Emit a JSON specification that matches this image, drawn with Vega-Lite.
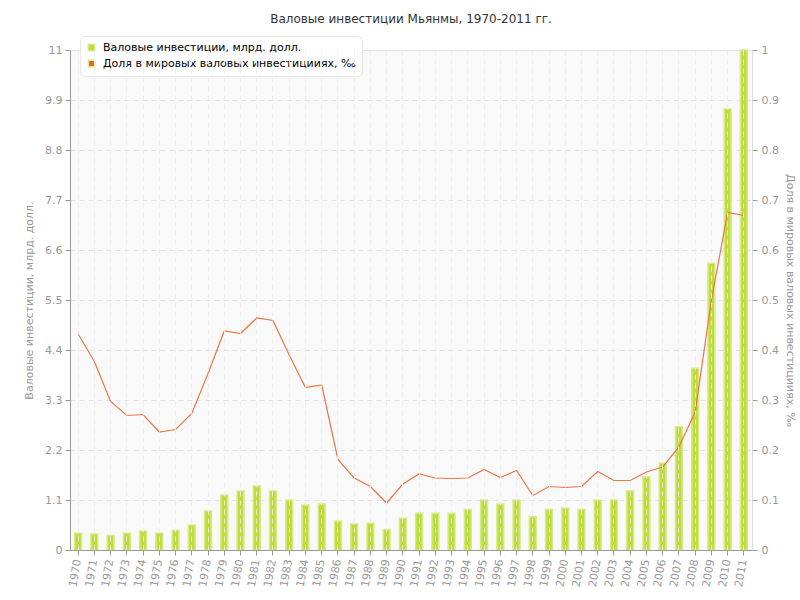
{
  "$schema": "https://vega.github.io/schema/vega-lite/v6.json",
  "width": 682,
  "height": 500,
  "autosize": {"type": "none"},
  "padding": {"left": 70, "top": 50, "right": 48, "bottom": 50},
  "background": "white",
  "title": {"text": "Валовые инвестиции Мьянмы, 1970-2011 гг.", "font": "DejaVu Sans", "fontSize": 12, "fontWeight": "normal", "color": "#333333", "offset": 10},
  "config": {
    "font": "DejaVu Sans",
    "view": {"fill": "#f9f9f9", "stroke": "#e6e6e6"},
    "axis": {"labelFont": "DejaVu Sans", "labelFontSize": 11, "labelColor": "#999999", "titleFont": "DejaVu Sans", "titleFontSize": 11, "titleColor": "#999999", "titleFontWeight": "normal", "tickColor": "#999999", "domainColor": "#999999", "gridColor": "#e3e3e3", "gridDash": [5, 4], "tickSize": 5}
  },
  "data": {"values": [
    {"year": "1970", "inv": 0.37, "share": 0.432},
    {"year": "1971", "inv": 0.35, "share": 0.377},
    {"year": "1972", "inv": 0.32, "share": 0.297},
    {"year": "1973", "inv": 0.37, "share": 0.269},
    {"year": "1974", "inv": 0.42, "share": 0.271},
    {"year": "1975", "inv": 0.37, "share": 0.236},
    {"year": "1976", "inv": 0.43, "share": 0.241},
    {"year": "1977", "inv": 0.55, "share": 0.273},
    {"year": "1978", "inv": 0.86, "share": 0.353},
    {"year": "1979", "inv": 1.21, "share": 0.438},
    {"year": "1980", "inv": 1.30, "share": 0.433},
    {"year": "1981", "inv": 1.41, "share": 0.464},
    {"year": "1982", "inv": 1.30, "share": 0.459},
    {"year": "1983", "inv": 1.10, "share": 0.390},
    {"year": "1984", "inv": 0.99, "share": 0.325},
    {"year": "1985", "inv": 1.01, "share": 0.330},
    {"year": "1986", "inv": 0.64, "share": 0.181},
    {"year": "1987", "inv": 0.57, "share": 0.144},
    {"year": "1988", "inv": 0.59, "share": 0.127},
    {"year": "1989", "inv": 0.45, "share": 0.094},
    {"year": "1990", "inv": 0.70, "share": 0.132},
    {"year": "1991", "inv": 0.81, "share": 0.152},
    {"year": "1992", "inv": 0.81, "share": 0.144},
    {"year": "1993", "inv": 0.81, "share": 0.143},
    {"year": "1994", "inv": 0.89, "share": 0.144},
    {"year": "1995", "inv": 1.10, "share": 0.161},
    {"year": "1996", "inv": 1.01, "share": 0.145},
    {"year": "1997", "inv": 1.10, "share": 0.159},
    {"year": "1998", "inv": 0.73, "share": 0.109},
    {"year": "1999", "inv": 0.89, "share": 0.127},
    {"year": "2000", "inv": 0.92, "share": 0.125},
    {"year": "2001", "inv": 0.89, "share": 0.127},
    {"year": "2002", "inv": 1.10, "share": 0.157},
    {"year": "2003", "inv": 1.10, "share": 0.139},
    {"year": "2004", "inv": 1.30, "share": 0.139},
    {"year": "2005", "inv": 1.61, "share": 0.156},
    {"year": "2006", "inv": 1.91, "share": 0.166},
    {"year": "2007", "inv": 2.71, "share": 0.206},
    {"year": "2008", "inv": 4.00, "share": 0.276},
    {"year": "2009", "inv": 6.31, "share": 0.500},
    {"year": "2010", "inv": 9.70, "share": 0.675},
    {"year": "2011", "inv": 11.0, "share": 0.669}
  ]},
  "encoding": {
    "x": {"field": "year", "type": "ordinal", "scale": {"paddingInner": 0, "paddingOuter": 0},
      "axis": {"title": null, "labelAngle": -80, "labelAlign": "right", "labelBaseline": "middle", "labelPadding": 4, "grid": true, "bandPosition": 0.5, "zindex": 1, "gridColor": "#ececec", "gridOpacity": 0.9}}
  },
  "layer": [
    {
      "mark": {"type": "bar", "width": {"band": 0.42}, "stroke": "#d6eb86", "strokeWidth": 1.5},
      "encoding": {
        "y": {"field": "inv", "type": "quantitative", "scale": {"domain": [0, 11], "nice": false},
          "axis": {"title": "Валовые инвестиции, млрд. долл.", "values": [0, 1.1, 2.2, 3.3, 4.4, 5.5, 6.6, 7.7, 8.8, 9.9, 11], "format": ".2~f", "grid": true, "titlePadding": 10, "labelPadding": 3}},
        "color": {"datum": "Валовые инвестиции, млрд. долл.", "type": "nominal",
          "scale": {"domain": ["Валовые инвестиции, млрд. долл.", "Доля в мировых валовых инвестицииях, ‰"], "range": ["#bfdc3a", "#e8632a"]},
          "legend": {"title": null, "orient": "none", "legendX": 10, "legendY": -14, "fillColor": "white", "strokeColor": "#e6e6e6", "cornerRadius": 5, "padding": 6, "labelFont": "DejaVu Sans", "labelFontSize": 11, "labelColor": "#000000", "labelLimit": 0, "symbolType": "square", "symbolSize": 40, "rowPadding": 3, "labelOffset": 6,
            "encode": {"symbols": {"update": {"fill": {"scale": "color", "field": "value"}, "stroke": {"value": "transparent"}, "shape": {"value": "square"}}}}}
        }
      }
    },
    {
      "mark": {"type": "line", "strokeWidth": 1.2, "color": "#ec7548"},
      "encoding": {
        "y": {"field": "share", "type": "quantitative", "scale": {"domain": [0, 1], "nice": false},
          "axis": {"title": "Доля в мировых валовых инвестицииях, ‰", "orient": "right", "values": [0, 0.1, 0.2, 0.3, 0.4, 0.5, 0.6, 0.7, 0.8, 0.9, 1], "format": ".1~f", "grid": false, "domainColor": "#dddddd", "titlePadding": 6, "labelPadding": 4}}
      }
    }
  ],
  "resolve": {"scale": {"y": "independent"}}
}
